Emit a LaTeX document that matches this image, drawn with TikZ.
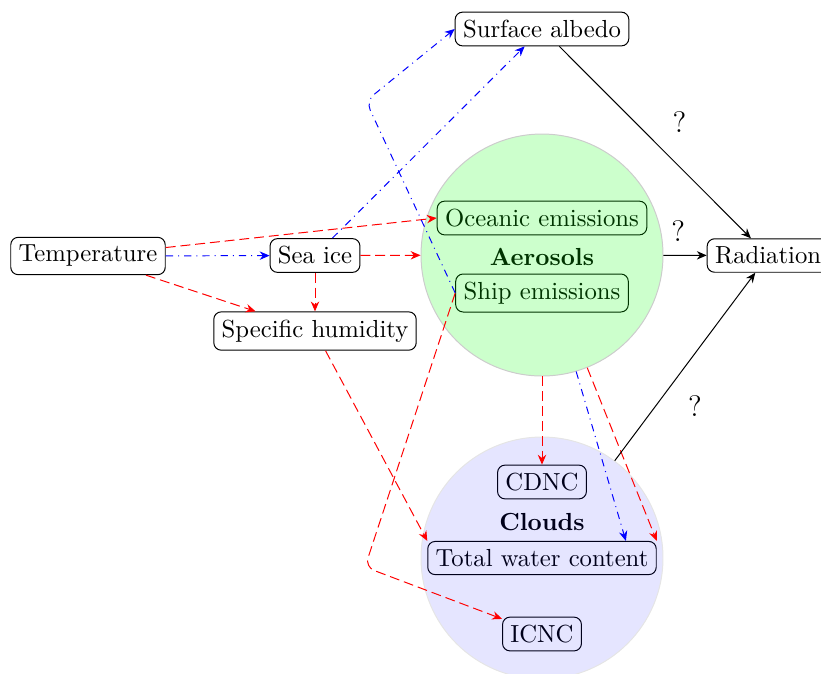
\documentclass[tikz,border=0pt]{standalone}
\usetikzlibrary{arrows.meta}
\begin{document}
\begin{tikzpicture}[x=0.405pt, y=-0.405pt,
  box/.style={draw, rounded corners=3pt, fill=white, inner sep=3.2pt},
  arr/.style={-{Stealth[length=4pt,width=3.4pt]}},
  redarr/.style={arr, red, dash pattern=on 4pt off 2pt},
  bluearr/.style={arr, blue, dash pattern=on 3pt off 2pt on 0.4pt off 2pt},
  blackarr/.style={arr, black},
  qmark/.style={font=\large, inner sep=3.33pt},
  bubble/.style={circle, minimum size=98pt, inner sep=0pt}
]
\useasboundingbox (0,0) rectangle (821,673);

% plain nodes
\node[box] (temp) at (88,256) {Temperature};
\node[box] (seaice) at (315,255.5) {Sea ice};
\node[box] (humid) at (315,331) {Specific humidity};
\node[box] (albedo) at (542,29) {Surface albedo};
\node[box, anchor=west] (rad) at (706.7,255.5) {Radiation};

% aerosol group
\node[box] (ocean) at (542,218) {Oceanic emissions};
\node[box] (ship) at (542,293) {Ship emissions};
\node[font=\bfseries] (aerlbl) at (542,257) {Aerosols};
\node[bubble, fill=green, fill opacity=0.2, draw=black!20] (aer) at (542,255) {};

% cloud group
\node[box] (cdnc) at (542,482) {CDNC};
\node[box] (twc) at (542,558) {Total water content};
\node[box] (icnc) at (542,634) {ICNC};
\node[font=\bfseries] (cldlbl) at (542,522) {Clouds};
\node[bubble, fill=blue, fill opacity=0.1, draw=black!10] (cld) at (542,558) {};

% helper coordinates
\coordinate (twcb) at ([xshift=-12.5pt]twc.north east);
\coordinate (bendA) at (366,101);
\coordinate (bendB) at (365,567);

% connectors
\draw[bluearr] (temp) -- (seaice);
\draw[redarr] (temp) -- (ocean.west);
\draw[redarr] (temp) -- (humid);
\draw[redarr] (seaice) -- (humid);
\draw[redarr] (seaice) -- (aer);
\draw[bluearr] (seaice) -- (albedo);
\draw[bluearr, rounded corners=4pt] (ship.west) -- (bendA) -- (albedo.west);
\draw[redarr, rounded corners=4pt] (ship.west) -- (bendB) -- (icnc);
\draw[redarr] (humid) -- (twc.north west);
\draw[redarr] (aer) -- (cdnc);
\draw[bluearr] (aer) -- (twcb);
\draw[redarr] (aer) -- (twc.north east);

\draw[blackarr] (albedo) -- node[qmark, pos=0.52, above right=2pt] {?} (rad);
\draw[blackarr] (aer) -- node[qmark, pos=0.34, above=2pt] {?} (rad);
\draw[blackarr] (cld) -- node[qmark, pos=0.39, anchor=north west, xshift=4pt] {?} (rad);
\end{tikzpicture}
\end{document}
